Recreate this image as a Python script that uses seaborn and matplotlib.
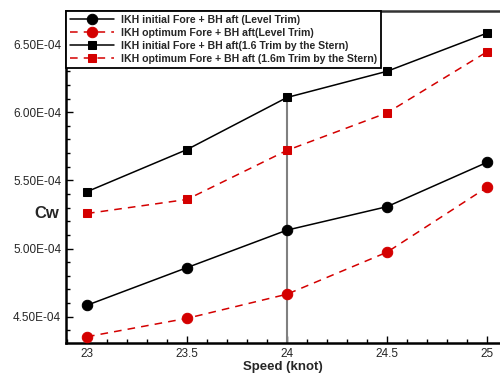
import numpy as np
import pandas as pd
import seaborn as sns
import matplotlib.pyplot as plt
from matplotlib.ticker import MultipleLocator, FuncFormatter

# speeds (knot)
speed = [23, 23.5, 24, 24.5, 25]

# wave resistance coefficient Cw
cw_initial_level = [4.584e-4, 4.86e-4, 5.135e-4, 5.307e-4, 5.632e-4]
cw_optimum_level = [4.353e-4, 4.488e-4, 4.665e-4, 4.973e-4, 5.449e-4]
cw_initial_stern = [5.417e-4, 5.726e-4, 6.108e-4, 6.30e-4, 6.58e-4]
cw_optimum_stern = [5.257e-4, 5.36e-4, 5.72e-4, 5.995e-4, 6.443e-4]

labels = ["IKH initial Fore + BH aft (Level Trim)",
          "IKH optimum Fore + BH aft(Level Trim)",
          "IKH initial Fore + BH aft(1.6 Trim by the Stern)",
          "IKH optimum Fore + BH aft (1.6m Trim by the Stern)"]

sns.set_style("white")
plt.rcParams['font.family'] = ['Liberation Sans', 'DejaVu Sans']

fig = plt.figure(figsize=(5, 3.74), dpi=100)
ax = fig.add_axes([0.132, 0.0829, 0.868, 0.889])

# vertical reference line at 24 knot
ax.plot([24, 24], [4.30e-4, cw_initial_stern[2]], color="#808080", lw=1.5, zorder=1)

series = [
    (cw_initial_level, "black", "-", "o", 7.5),
    (cw_optimum_level, "#d40000", (0, (5, 4)), "o", 7.5),
    (cw_initial_stern, "black", "-", "s", 6),
    (cw_optimum_stern, "#d40000", (0, (5, 4)), "s", 6),
]
for (vals, col, ls, mk, ms), lab in zip(series, labels):
    sns.lineplot(x=speed, y=vals, ax=ax, color=col, linestyle=ls, marker=mk,
                 markersize=ms, markeredgecolor=col, lw=1.1, label=lab,
                 clip_on=False, zorder=3)

ax.set_xlim(22.895, 25.065)
ax.set_ylim(4.307e-4, 6.746e-4)

ax.xaxis.set_major_locator(MultipleLocator(0.5))
ax.xaxis.set_minor_locator(MultipleLocator(0.1))
ax.yaxis.set_major_locator(MultipleLocator(0.5e-4))
ax.yaxis.set_minor_locator(MultipleLocator(0.1e-4))
ax.xaxis.set_major_formatter(FuncFormatter(lambda v, p: f"{v:g}"))
ax.yaxis.set_major_formatter(FuncFormatter(lambda v, p: f"{v:.2E}"))
ax.tick_params(which="major", direction="in", length=5, width=1, labelsize=8.5,
               left=True, bottom=True, color="black")
ax.tick_params(which="minor", direction="in", length=3, width=1,
               left=True, bottom=True, color="black")

for s in ["left", "bottom"]:
    ax.spines[s].set_linewidth(1.8)
    ax.spines[s].set_color("black")
ax.spines["top"].set_linewidth(1.8)
ax.spines["top"].set_color("#333333")
ax.spines["right"].set_visible(False)

ax.set_xlabel("Speed (knot)", fontsize=9.5, fontweight="bold", labelpad=1)
ax.set_ylabel("Cw", fontsize=12, fontweight="bold", rotation=0, va="center")
ax.yaxis.set_label_coords(-0.045, 0.388)

leg = ax.legend(loc="upper left", borderaxespad=0, frameon=True, fancybox=False,
                edgecolor="black", handlelength=4.2, labelspacing=0.3,
                borderpad=0.4, handletextpad=0.6,
                prop={"weight": "bold", "size": 7.55})
leg.get_frame().set_linewidth(1.3)
leg.get_frame().set_alpha(1)

fig.savefig("out.png", dpi=100)
